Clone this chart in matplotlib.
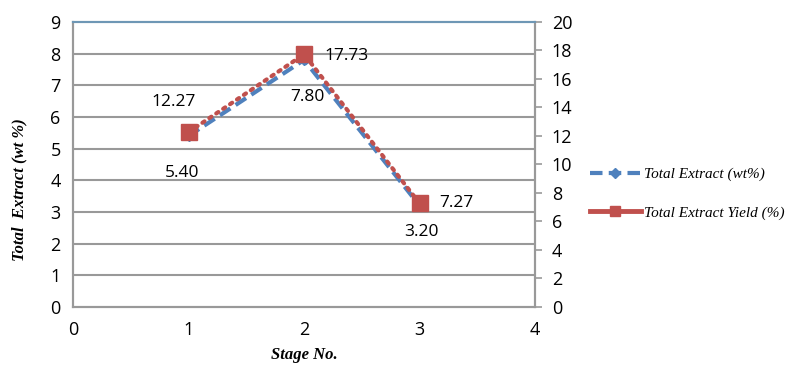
import matplotlib.pyplot as plt
from matplotlib.lines import Line2D

# stage numbers and the two measured series
stages = [1, 2, 3]
extract_wt = [5.40, 7.80, 3.20]        # left axis, wt %
extract_yield = [12.27, 17.73, 7.27]   # right axis, %

left_ticks = list(range(0, 10))
right_ticks = list(range(0, 21, 2))
x_ticks = [0, 1, 2, 3, 4]

blue = '#4F81BD'
red = '#C0504D'
grey = '#999999'
tick_font = 'Open Sans'
serif = 'Liberation Serif'

fig = plt.figure(figsize=(7.95, 3.65), dpi=100)
ax = fig.add_axes([0.092, 0.159, 0.581, 0.781])
ax2 = ax.twinx()

# grid lines for the left scale
for v in left_ticks[1:-1]:
    ax.axhline(v, color=grey, lw=1.5, zorder=0)

l1, = ax.plot(stages, extract_wt, ls=(0, (3, 1.5)), lw=3, color=blue,
              marker='D', ms=5, mfc=blue, mec=blue, zorder=3)
l2, = ax2.plot(stages, extract_yield, ls=(0, (0.6, 1.4)), lw=3, color=red,
               dash_capstyle='round', marker='s', ms=11, mfc=red, mec=red,
               zorder=4)

ax.set_xlim(0, 4)
ax.set_ylim(0, 9)
ax2.set_ylim(0, 20)
ax.set_xticks(x_ticks)
ax.set_yticks(left_ticks)
ax2.set_yticks(right_ticks)

ax.tick_params(axis='x', length=0, pad=10, labelsize=13)
ax.tick_params(axis='y', length=0, pad=9, labelsize=13)
ax2.tick_params(axis='y', length=5, width=1.2, color=grey, pad=7,
                labelsize=13)
for a in (ax, ax2):
    for lab in a.get_xticklabels() + a.get_yticklabels():
        lab.set_fontfamily(tick_font)
    for s in a.spines.values():
        s.set_color(grey)
        s.set_linewidth(1.5)
    a.spines['top'].set_color('#6E97B5')

# value labels, yield above/right of the squares, wt% below the line
lbl = dict(fontsize=12.5, family=tick_font, ha='center', va='center')
ax.text(0.866, 6.47, f'{extract_yield[0]:.2f}', **lbl)
ax.text(0.945, 4.23, f'{extract_wt[0]:.2f}', **lbl)
ax.text(2.37, 7.93, f'{extract_yield[1]:.2f}', **lbl)
ax.text(2.03, 6.63, f'{extract_wt[1]:.2f}', **lbl)
ax.text(3.32, 3.28, f'{extract_yield[2]:.2f}', **lbl)
ax.text(3.02, 2.37, f'{extract_wt[2]:.2f}', **lbl)

ax.set_ylabel('Total  Extract (wt %)', family=serif, style='italic',
              weight='bold', fontsize=12)
ax.yaxis.set_label_coords(-0.10, 0.41)
ax.set_xlabel('Stage No.', family=serif, style='italic', weight='bold',
              fontsize=12, labelpad=6)

# legend handles: dashed blue with diamond, solid red with square
h1 = Line2D([], [], ls=(0, (3, 1.5)), lw=3, color=blue, marker='D', ms=5)
h2 = Line2D([], [], ls='-', lw=3.5, color=red, marker='s', ms=7)
fig.legend(handles=[h1, h2],
           labels=['Total Extract (wt%)', 'Total Extract Yield (%)'],
           loc='center left', bbox_to_anchor=(0.725, 0.47), frameon=False,
           prop={'family': serif, 'style': 'italic', 'size': 11},
           handlelength=3.3, handletextpad=0.2, labelspacing=1.6)

fig.savefig('out.png', dpi=100)
